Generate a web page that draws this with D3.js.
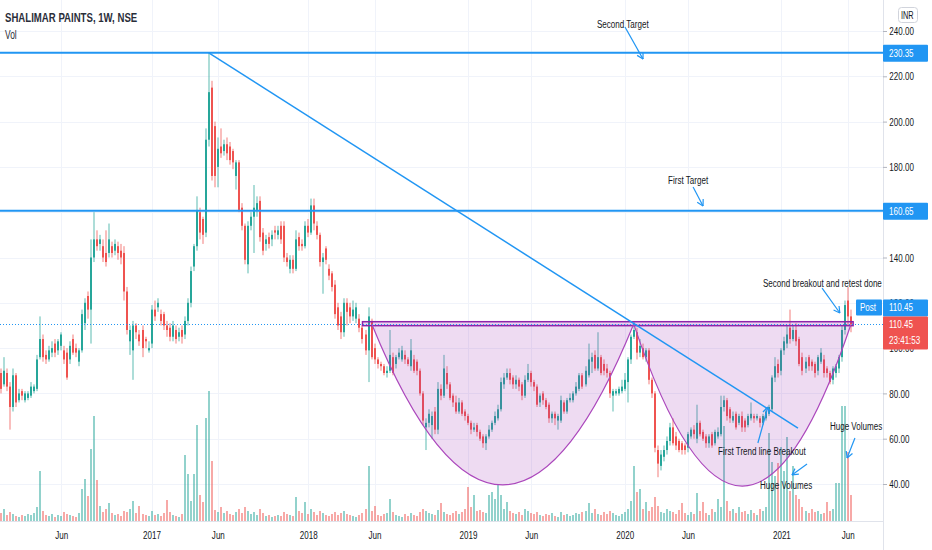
<!DOCTYPE html>
<html>
<head>
<meta charset="utf-8">
<script src="https://cdn.jsdelivr.net/npm/d3@7"></script>
<style>
  body { margin: 0; background: #fff; }
  svg { display: block; font-family: "Liberation Sans", Arial, sans-serif; }
</style>
</head>
<body>
<div id="chart"></div>
<script>
// Shalimar Paints, weekly candles (NSE)
const opens = [
  89,84,89,83,74,88,77,81,77,78, 79,81,82,96,104,97,95,98,102,99,
  101,99,98,95,104,100,94,99,111,123, 117,140,148,146,145,142,142,145,143,145,
  143,142,125,103,99,110,106,108,104,99, 102,117,118,115,115,110,109,105,108,105,
  108,106,112,120,136,145,160,157,151,192, 215,198,180,189,187,190,189,187,176,182,
  162,154,137,154,158,161,165,151,146,149, 148,152,150,154,154,140,135,139,135,149,
  146,145,154,151,163,154,150,138,144,135, 133,128,118,114,107,120,118,114,113,113,
  109,106,99,112,100,95,93,92,89,90, 96,93,96,95,97,95,92,95,94,90,
  80,65,67,66,72,64,82,79,89,84, 79,76,72,76,72,70,67,64,66,63,
  61,58,61,64,67,69,73,84,87,89, 87,84,86,84,79,86,89,85,83,76,
  80,77,75,69,71,68,68,76,72,77, 77,80,82,88,84,88,94,97,91,96,
  93,91,89,79,80,80,81,82,85,95, 105,107,98,100,96,99,86,80,55,48,
  52,55,59,65,61,59,58,57,56,61, 64,60,67,63,61,58,62,58,61,62,
  74,77,73,68,71,67,70,68,66,69, 70,69,69,67,69,71,73,87,93,90,
  99,102,109,104,108,104,96,91,96,94, 93,90,94,95,91,89,86,89,91,96,
  108,121,114
];
const highs = [
  91,96,91,85,91,89,82,82,81,81, 85,84,97,114,106,99,101,103,104,104,
  107,101,100,103,106,102,100,117,122,125, 148,160,152,150,148,152,155,147,148,147,
  146,145,127,110,112,111,108,110,105,103, 119,121,122,117,116,112,111,112,110,109,
  110,114,122,136,146,167,162,158,197,230.35, 218,200,193,197,192,193,191,188,183,183,
  164,155,156,160,172,167,167,153,150,151, 152,154,154,156,156,142,141,141,152,151,
  148,156,157,166,166,156,151,142,145,137, 134,130,120,116,122,122,120,121,120,115,
  110,108,118,113,102,96,94,93,92,108, 98,97,100,101,99,96,104,97,95,91,
  81,69,73,72,74,85,84,97,92,85, 80,79,78,77,73,71,68,67,67,64,
  62,62,66,68,72,75,87,89,91,91, 88,88,87,85,88,93,90,86,84,80,
  81,78,76,72,72,71,79,77,78,80, 81,85,89,89,92,102,98,99,107,97,
  95,93,90,82,82,83,86,89,96,106, 111.5,109,104,102,100,100,87,81,57,55,
  57,61,67,69,63,60,59,58,63,65, 66,75,68,64,62,62,63,64,65,79,
  79,78,74,72,72,71,72,69,71,76, 71,71,70,71,74,75,88,96,95,100,
  105,110,117,110,111,105,98,96,97,95, 94,97,100,97,92,90,92,93,97,110,
  121,127,117
];
const lows = [
  80,83,81,64,72,74,76,77,76,77, 78,80,81,95,94,93,94,96,96,97,
  99,93,86,93,97,96,92,98,108,113, 102,138,143,143,138,136,140,140,141,139,
  137,121,106,97,86,104,101,96,100,98, 100,112,116,110,108,105,103,103,102,103,
  102,104,110,118,134,143,148,146,149,189, 174,171,171,184,185,183,181,179,170,160,
  152,137,133,152,142,158,147,141,143,144, 145,148,148,146,138,136,133,133,134,143,
  143,144,149,150,152,148,136,124,137,130, 125,113,108,104,105,110,111,112,111,107,
  102,97,85,95,93,91,90,88,87,89, 88,91,95,94,93,92,90,89,88,79,
  66,55,65,60,62,62,77,78,82,77, 74,71,71,70,68,66,62,63,61,59,
  56,55,60,63,66,68,72,82,86,84, 82,82,81,77,78,85,83,81,74,74,
  75,73,67,67,66,64,67,71,71,76, 76,79,81,82,83,87,89,90,90,88,
  88,87,78,72,79,79,80,81,76,93, 104,95,96,95,94,84,78,54,43,46,
  50,53,57,57,55,54,53,53,54,60, 60,58,61,59,56,56,56,57,60,61,
  72,68,67,67,64,66,63,63,65,68, 67,68,65,66,68,70,72,85,87,88,
  97,100,102,103,101,92,88,89,90,90, 87,88,93,87,87,84,84,87,89,94,
  106,110,107
];
const closes = [
  82,90,83,74,88,76,80,79,80,80, 83,83,95,104,96,95,99,100,98,103,
  106,95,87,101,98,98,99,115,120,117, 140,148,145,148,140,138,148,142,146,142,
  140,125,108,108,110,107,103,100,103,100, 117,114,120,112,110,108,105,110,104,107,
  105,112,120,134,145,161,151,150,192,213, 176,176,188,186,190,186,183,182,182,161,
  154,139,154,158,162,164,149,143,148,146, 150,151,152,148,140,138,139,135,148,145,
  145,154,151,163,155,150,138,140,139,132, 127,115,110,107,120,116,114,117,118,109,
  104,99,114,96,95,93,92,89,90,97, 89,96,98,99,95,93,99,90,90,80,
  68,67,71,70,64,82,79,91,84,78, 76,72,76,71,70,67,64,65,63,60,
  58,61,64,67,70,73,85,87,89,86, 84,86,83,79,86,89,85,83,75,79,
  77,74,69,71,69,70,77,72,77,78, 80,83,88,83,90,95,96,91,96,89,
  90,89,80,81,81,82,83,86,95,105, 108,98,101,96,99,86,80,56,49,53,
  55,59,65,58,57,55,55,55,62,64, 62,67,62,60,58,61,57,63,63,74,
  77,70,69,70,65,70,65,65,70,71, 69,70,67,70,72,74,87,92,89,99,
  103,106,104,108,103,93,90,94,92,92, 89,96,98,89,89,85,91,92,96,108,
  119,114,110.45
];
// thousand shares
const volumes = [
  80,120,60,90,70,50,40,60,50,70, 60,80,140,500,100,60,50,70,40,60,
  50,90,70,60,50,40,80,320,420,250, 720,1050,410,150,90,120,180,80,60,70,
  50,100,90,120,200,80,150,70,60,50, 100,60,70,50,80,210,90,60,50,40,
  70,660,470,200,470,960,260,190,1030,1300, 600,110,90,140,80,100,70,60,90,120,
  80,140,100,70,90,60,120,80,50,60, 40,50,60,50,90,70,60,50,240,100,
  80,190,70,120,90,60,100,80,60,50, 70,90,60,80,100,70,60,50,40,60,
  80,120,550,100,150,60,50,70,80,220, 90,60,50,40,70,50,80,60,50,90,
  120,100,80,70,60,110,180,90,70,60, 80,100,70,90,120,340,140,260,100,110,
  90,80,260,290,220,360,260,120,190,100, 80,70,90,60,120,100,80,70,90,60,
  50,70,60,80,50,40,90,60,70,50, 60,80,70,90,100,180,80,120,70,60,
  90,70,100,80,60,50,70,90,120,200, 550,290,320,120,190,100,140,240,150,90,
  80,120,100,90,70,110,180,80,60,90, 70,280,100,190,80,60,120,90,220,140,
  950,200,100,120,80,140,90,100,70,110, 80,60,120,100,140,880,590,450,580,740,
  500,840,300,550,260,220,140,100,80,120, 90,100,70,80,190,100,120,380,380,1150,
  1150,690,260
];

const priceTicks = [40, 60, 80, 100, 120, 140, 160, 180, 200, 220, 240];
const timeTickDates = ["2016-06-06","2017-01-02","2017-06-05","2018-01-01","2018-06-04",
  "2019-01-07","2019-06-03","2020-01-06","2020-06-01","2021-01-04","2021-06-07"];
const timeTickLabels = ["Jun","2017","Jun","2018","Jun","2019","Jun","2020","Jun","2021","Jun"];

const targetLevels = [230.35, 160.65];
const lastPrice = 110.45;
const countdown = "23:41:53";

// drawings, in bar index / price
const trendLine = [[69, 230.35], [264.5, 64.7]];
const resistanceBand = { from: 120, to: 282.8, top: 111.65, bottom: 109.9 };
const cups = [
  { from: [123.2, 110.2], to: [210, 110.6], bottom: 39.6 },
  { from: [210, 110.6], to: [282, 110.2], bottom: 39.1 }
];
const notes = [
  { text: "Second Target", at: [197.8, 243.1], arrow: [[207.1, 241.8], [213.1, 227.6]] },
  { text: "First Target", at: [221.4, 174.2], arrow: [[229.7, 171.1], [233.0, 162.7]] },
  { text: "Second breakout and retest done", at: [252.9, 128.7], arrow: [[272.5, 126.5], [278.4, 115.5]] },
  { text: "First Trend line Breakout", at: [238.0, 54.6], arrow: [[251.2, 58.1], [254.5, 74.0]] },
  { text: "Huge Volumes", at: [251.9, 39.6], arrow: [[267.5, 48.8], [262.5, 44.0]] },
  { text: "Huge Volumes", at: [275.1, 65.6], arrow: [[283.4, 60.3], [280.8, 51.5]] }
];

// ---- layout
const W = 883, H = 522;
const up = "#26a69a", down = "#ef5350", blue = "#2196f3", purple = "#9c27b0";
const SX = 0.7; // horizontal squeeze for text

const svg = d3.select("#chart").append("svg")
  .attr("width", 932).attr("height", 550);

const weeks = d3.utcMonday.range(new Date(Date.UTC(2016, 0, 18)), new Date(Date.UTC(2021, 5, 15)));
const x = d3.scaleUtc()
  .domain([new Date(Date.UTC(2016, 0, 16)), new Date(Date.UTC(2021, 7, 28))])
  .range([0, W]);
const y = d3.scaleLinear().domain([40, 240]).range([484, 31]);
const yv = d3.scaleLinear().domain([0, 1300]).range([521, 391]);
const step = x(weeks[1]) - x(weeks[0]);
const xi = i => x(weeks[0]) + i * step;

svg.append("defs").append("clipPath").attr("id", "plot")
  .append("rect").attr("x", 0).attr("y", 0).attr("width", W).attr("height", H);

// grid
const tickDates = timeTickDates.map(d => new Date(d + "T00:00:00Z"));
svg.append("g").selectAll("line").data(priceTicks).join("line")
  .attr("x1", 0).attr("x2", W)
  .attr("y1", d => Math.round(y(d)) + 0.5).attr("y2", d => Math.round(y(d)) + 0.5)
  .attr("stroke", "#f0f3fa");
svg.append("g").selectAll("line").data(tickDates).join("line")
  .attr("x1", d => Math.round(x(d)) + 0.5).attr("x2", d => Math.round(x(d)) + 0.5)
  .attr("y1", 0).attr("y2", H)
  .attr("stroke", "#f0f3fa");

const plot = svg.append("g").attr("clip-path", "url(#plot)");

// volume
const idx = d3.range(closes.length);
plot.append("g").selectAll("rect").data(idx).join("rect")
  .attr("x", i => Math.round(xi(i)) - 1)
  .attr("width", 2)
  .attr("y", i => yv(volumes[i]))
  .attr("height", i => yv(0) - yv(volumes[i]))
  .attr("fill", i => closes[i] >= opens[i] ? up : down)
  .attr("fill-opacity", 0.5);

// candles
const candle = plot.append("g").selectAll("g").data(idx).join("g")
  .attr("fill", i => closes[i] >= opens[i] ? up : down);
candle.append("rect")
  .attr("x", i => Math.round(xi(i)) - 0.5)
  .attr("width", 1)
  .attr("y", i => y(highs[i]))
  .attr("height", i => y(lows[i]) - y(highs[i]))
  .attr("opacity", 0.75);
candle.append("rect")
  .attr("x", i => Math.round(xi(i)) - 1)
  .attr("width", 2)
  .attr("y", i => y(Math.max(opens[i], closes[i])))
  .attr("height", i => Math.max(1, Math.abs(y(opens[i]) - y(closes[i]))));

// resistance band + cups
const band = resistanceBand;
plot.append("rect")
  .attr("x", xi(band.from)).attr("width", xi(band.to) - xi(band.from))
  .attr("y", y(band.top)).attr("height", y(band.bottom) - y(band.top))
  .attr("fill", purple).attr("fill-opacity", 0.2)
  .attr("stroke", "#8e24aa").attr("stroke-width", 1.5);

cups.forEach(c => {
  const x0 = xi(c.from[0]), y0 = y(c.from[1]);
  const x1 = xi(c.to[0]), y1 = y(c.to[1]);
  const cx = (x0 + x1) / 2, cy = 2 * y(c.bottom) - (y0 + y1) / 2;
  const p = d3.path();
  p.moveTo(x0, y0);
  p.quadraticCurveTo(cx, cy, x1, y1);
  plot.append("path").attr("d", p.toString() + "Z")
    .attr("fill", purple).attr("fill-opacity", 0.17).attr("stroke", "none");
  plot.append("path").attr("d", p.toString())
    .attr("fill", "none").attr("stroke", "#ab47bc").attr("stroke-width", 1.2);
});

// targets, trend line, last price
plot.append("g").selectAll("line").data(targetLevels).join("line")
  .attr("x1", 0).attr("x2", W)
  .attr("y1", d => y(d)).attr("y2", d => y(d))
  .attr("stroke", blue).attr("stroke-width", 2);

plot.append("line")
  .attr("x1", xi(trendLine[0][0])).attr("y1", y(trendLine[0][1]))
  .attr("x2", xi(trendLine[1][0])).attr("y2", y(trendLine[1][1]))
  .attr("stroke", blue).attr("stroke-width", 1.5);

plot.append("line")
  .attr("x1", 0).attr("x2", W)
  .attr("y1", Math.round(y(lastPrice)) + 0.5).attr("y2", Math.round(y(lastPrice)) + 0.5)
  .attr("stroke", blue).attr("stroke-dasharray", "1,2");

// notes
function squeezed(g, px, py, str, size, weight, fill, sx) {
  return g.append("text")
    .attr("transform", `translate(${px},${py}) scale(${sx || SX},1)`)
    .attr("dy", "0.35em")
    .attr("font-size", size).attr("font-weight", weight || "normal")
    .attr("fill", fill || "#131722")
    .text(str);
}
function arrow(g, a, b) {
  const ax = xi(a[0]), ay = y(a[1]), bx = xi(b[0]), by = y(b[1]);
  const ang = Math.atan2(by - ay, bx - ax);
  const len = 7, spread = 0.5;
  g.append("line").attr("x1", ax).attr("y1", ay).attr("x2", bx).attr("y2", by);
  [ang + Math.PI - spread, ang + Math.PI + spread].forEach(t => {
    g.append("line").attr("x1", bx).attr("y1", by)
      .attr("x2", bx + len * Math.cos(t)).attr("y2", by + len * Math.sin(t));
  });
}
const noteG = plot.append("g");
const arrowG = plot.append("g").attr("stroke", blue).attr("stroke-width", 1.2);
notes.forEach(n => {
  squeezed(noteG, xi(n.at[0]), y(n.at[1]), n.text, 11.5);
  arrow(arrowG, n.arrow[0], n.arrow[1]);
});

// frame
svg.append("line").attr("x1", W + 0.5).attr("x2", W + 0.5).attr("y1", 0).attr("y2", 550)
  .attr("stroke", "#e0e3eb");
svg.append("line").attr("x1", 0).attr("x2", W).attr("y1", H - 0.5).attr("y2", H - 0.5)
  .attr("stroke", "#e0e3eb");

// time axis
const gx = svg.append("g").attr("transform", `translate(0,${H})`)
  .call(d3.axisBottom(x).tickValues(tickDates)
    .tickFormat((d, i) => timeTickLabels[i]).tickSize(0).tickPadding(9));
gx.select(".domain").remove();
gx.selectAll("text")
  .attr("font-size", 11.5).attr("fill", "#131722")
  .attr("font-family", "Liberation Sans, Arial, sans-serif")
  .attr("transform", `scale(${SX},1)`);

// price axis
const gy = svg.append("g").attr("transform", `translate(${W},0)`)
  .call(d3.axisRight(y).tickValues(priceTicks)
    .tickFormat(d3.format(".2f")).tickSize(4).tickPadding(3));
gy.select(".domain").remove();
gy.selectAll(".tick line").attr("stroke", "#b2b5be");
gy.selectAll("text")
  .attr("font-size", 11.5).attr("fill", "#131722")
  .attr("font-family", "Liberation Sans, Arial, sans-serif")
  .attr("transform", `scale(${SX},1) translate(2,0)`);

// price boxes on the axis
function priceBox(cy, lines, fill) {
  const g = svg.append("g");
  g.append("rect").attr("x", W).attr("y", cy - 8).attr("width", 45)
    .attr("height", 16 * lines.length + 1).attr("rx", 1).attr("fill", fill);
  lines.forEach((t, k) => squeezed(g, W + 6, cy + 16 * k, t, 11.5, "normal", "#fff"));
}
targetLevels.forEach(v => priceBox(y(v), [v.toFixed(2)], blue));

// post-market row sits one row above the live price
const postY = y(lastPrice) - 17;
priceBox(postY, [lastPrice.toFixed(2)], blue);
svg.append("rect").attr("x", 856).attr("y", postY - 8).attr("width", 26).attr("height", 16)
  .attr("rx", 1).attr("fill", blue);
squeezed(svg, 860, postY, "Post", 11.5, "normal", "#fff");
priceBox(y(lastPrice), [lastPrice.toFixed(2), countdown], down);

// INR badge
svg.append("rect").attr("x", 898.5).attr("y", 7.5).attr("width", 19).attr("height", 15)
  .attr("rx", 3).attr("fill", "#fff").attr("stroke", "#d1d4dc");
squeezed(svg, 901, 15, "INR", 10.5, "normal", "#131722");

// title
squeezed(svg, 5, 17, "SHALIMAR PAINTS, 1W, NSE", 13, "bold", "#2a2e39", 0.74);
squeezed(svg, 5, 35, "Vol", 12, "normal", "#2a2e39");
</script>
</body>
</html>
